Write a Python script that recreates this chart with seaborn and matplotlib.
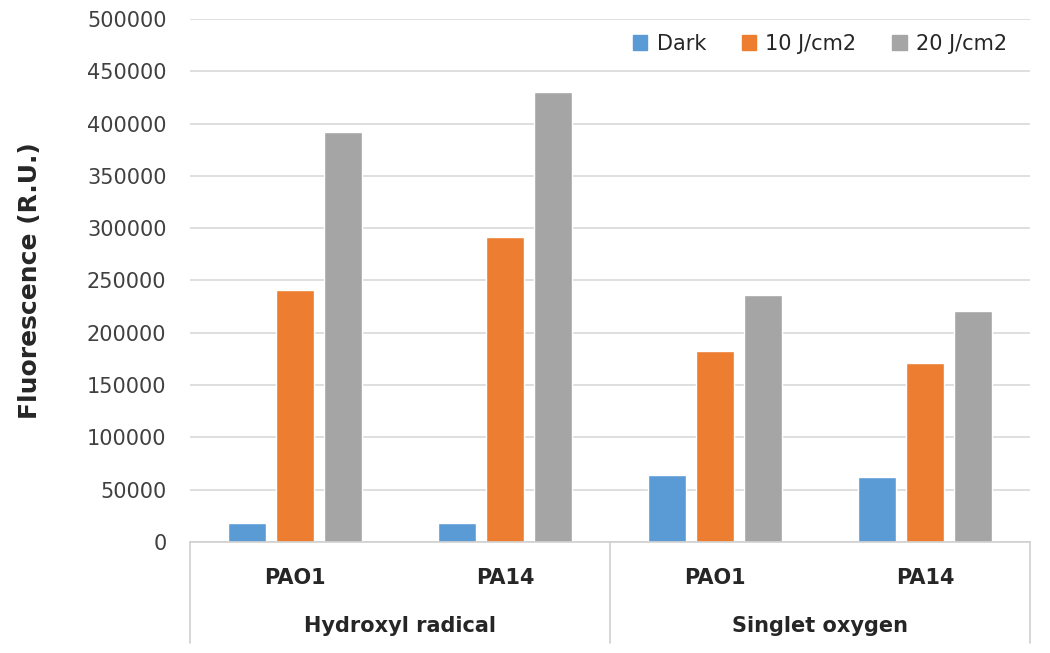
import numpy as np
import pandas as pd
import seaborn as sns
import matplotlib.patches as mpatches
from matplotlib import pyplot as plt

groups = ["Hydroxyl radical", "Singlet oxygen"]
strains = ["PAO1", "PA14"]
series = ["Dark", "10 J/cm2", "20 J/cm2"]
dark = [18000, 18000, 64000, 62500]
j10 = [241000, 291500, 183000, 171500]
j20 = [391500, 430500, 236500, 220500]
colors = ["#5B9BD5", "#ED7D31", "#A5A5A5"]

# one x slot per (group, strain) pair
slots = [g + " | " + s for g in groups for s in strains]
df = pd.DataFrame({
    "slot": slots * 3,
    "treatment": [series[0]] * 4 + [series[1]] * 4 + [series[2]] * 4,
    "value": dark + j10 + j20,
})

sns.set_style("white")
plt.rcParams["font.family"] = ["DejaVu Sans"]

fig, ax = plt.subplots(figsize=(10.5, 6.53), dpi=100)
fig.subplots_adjust(left=0.181, right=0.981, bottom=0.170, top=0.971)

sns.barplot(data=df, x="slot", y="value", hue="treatment", palette=colors,
            width=0.69, gap=0.21, ax=ax, legend=False, saturation=1)

ax.set_xlim(-0.5, 3.5)
ax.set_ylim(0, 500000)
ax.set_yticks(np.arange(0, 500001, 50000))
ax.set_yticklabels([str(v) for v in range(0, 500001, 50000)], fontsize=15, color="#404040")
ax.yaxis.grid(True, color="#d9d9d9", linewidth=1.2)
ax.set_axisbelow(True)
for side in ["left", "right", "top"]:
    ax.spines[side].set_visible(False)
ax.spines["bottom"].set_color("#d0d0d0")
ax.spines["bottom"].set_linewidth(1.2)
ax.tick_params(axis="both", length=0)
ax.tick_params(axis="y", pad=17)

ax.set_xlabel("")
ax.set_xticks(range(4))
ax.set_xticklabels(strains * 2, fontsize=15, fontweight="bold", color="#262626")
ax.tick_params(axis="x", pad=19)
ax.set_ylabel("Fluorescence (R.U.)", fontsize=18, fontweight="bold", labelpad=32)

# second level of the category axis
tr = ax.get_xaxis_transform()
for i, g in enumerate(groups):
    ax.text(2 * i + 0.5, -0.161, g, transform=tr, ha="center", va="center",
            fontsize=15, fontweight="bold", color="#262626")
for xb in [-0.5, 1.5, 3.5]:
    ax.plot([xb, xb], [0, -0.193], transform=tr, color="#d0d0d0",
            linewidth=1.2, clip_on=False)

handles = [mpatches.Patch(color=c, label=s) for c, s in zip(colors, series)]
ax.legend(handles=handles, ncol=3, frameon=False, fontsize=15,
          loc="center right", bbox_to_anchor=(0.995, 0.953),
          handlelength=0.7, handleheight=0.7, handletextpad=0.45,
          columnspacing=1.7)

plt.savefig("out.png", dpi=100)
